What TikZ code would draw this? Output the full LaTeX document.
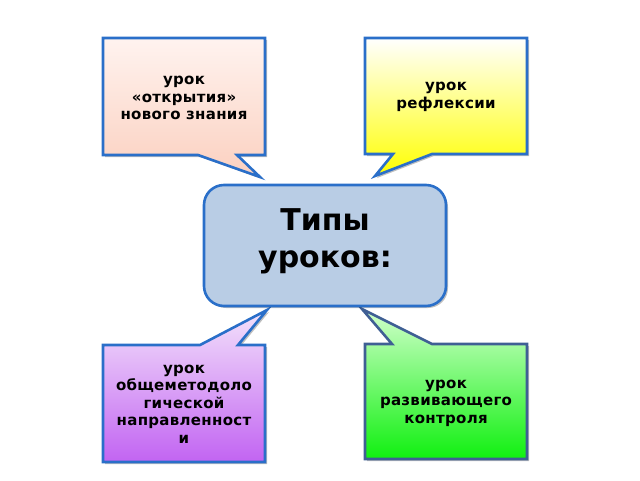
\documentclass[tikz,border=0pt]{standalone}
\usepackage{fontspec}
\setmainfont{DejaVu Sans}
\newfontfamily\bubblefont[LetterSpace=2]{DejaVu Sans Bold}
\newfontfamily\typesfont{DejaVu Sans Bold}
\usetikzlibrary{shadows}
\definecolor{edgeblue}{HTML}{2A6FC9}
\definecolor{edgesteel}{HTML}{3F5F94}
\definecolor{peachtop}{HTML}{FFF3EF}
\definecolor{peachbot}{HTML}{FBD0C0}
\definecolor{lilactop}{HTML}{F3E2FB}
\definecolor{lilacbot}{HTML}{C264F2}
\definecolor{greentop}{HTML}{D2FFCC}
\definecolor{greenbot}{HTML}{10F010}
\definecolor{slate}{HTML}{B9CDE5}
\tikzset{
    bubble/.style={line width=2.6pt,line join=miter,
        drop shadow={shadow xshift=2pt,shadow yshift=-2pt,opacity=.25,fill=black}},
    bubtext/.style={align=center,inner sep=0pt,
        font=\bubblefont\fontsize{15}{17.5}\selectfont},
    typesbox/.style={draw=edgeblue,line width=2.6pt,fill=slate,rounded corners=20pt,
        minimum width=242pt,minimum height=121pt,
        drop shadow={shadow xshift=2pt,shadow yshift=-2pt,opacity=.25,fill=black}},
    typestext/.style={align=center,inner sep=0pt,
        font=\typesfont\fontsize{30}{37}\selectfont}
}
\begin{document}
\begin{tikzpicture}[x=1pt,y=-1pt]
    \useasboundingbox (0,0) rectangle (640,480);
    % callouts
    \draw [bubble,draw=edgeblue,top color=peachtop,bottom color=peachbot]
        (103,38) -- (265,38) -- (265,155) -- (237,155) -- (260,177)
        -- (198,155) -- (103,155) -- cycle;
    \draw [bubble,draw=edgeblue,top color=white,bottom color=yellow]
        (365,38) -- (527,38) -- (527,154) -- (432,154) -- (375,176)
        -- (393,154) -- (365,154) -- cycle;
    \draw [bubble,draw=edgeblue,top color=lilactop,bottom color=lilacbot]
        (103,345) -- (200,345) -- (267,310) -- (238,345) -- (265,345)
        -- (265,462) -- (103,462) -- cycle;
    \draw [bubble,draw=edgesteel,top color=greentop,bottom color=greenbot]
        (365,344) -- (392,344) -- (362,309) -- (432,344) -- (527,344)
        -- (527,459) -- (365,459) -- cycle;
    % centre
    \node [typesbox] (types) at (325,245.5) {};
    \node [typestext,yshift=4pt] (typeslabel) at (types) {Типы\\уроков:};
    % texts
    \node [bubtext] (open) at (184,98) {урок\\«открытия»\\нового знания};
    \node [bubtext] (refl) at (446,97) {урок\\рефлексии};
    \node [bubtext] (general) at (184,404)
        {урок\\общеметодоло\\гической\\направленност\\и};
    \node [bubtext] (control) at (446,403) {урок\\развивающего\\контроля};
\end{tikzpicture}
\end{document}
